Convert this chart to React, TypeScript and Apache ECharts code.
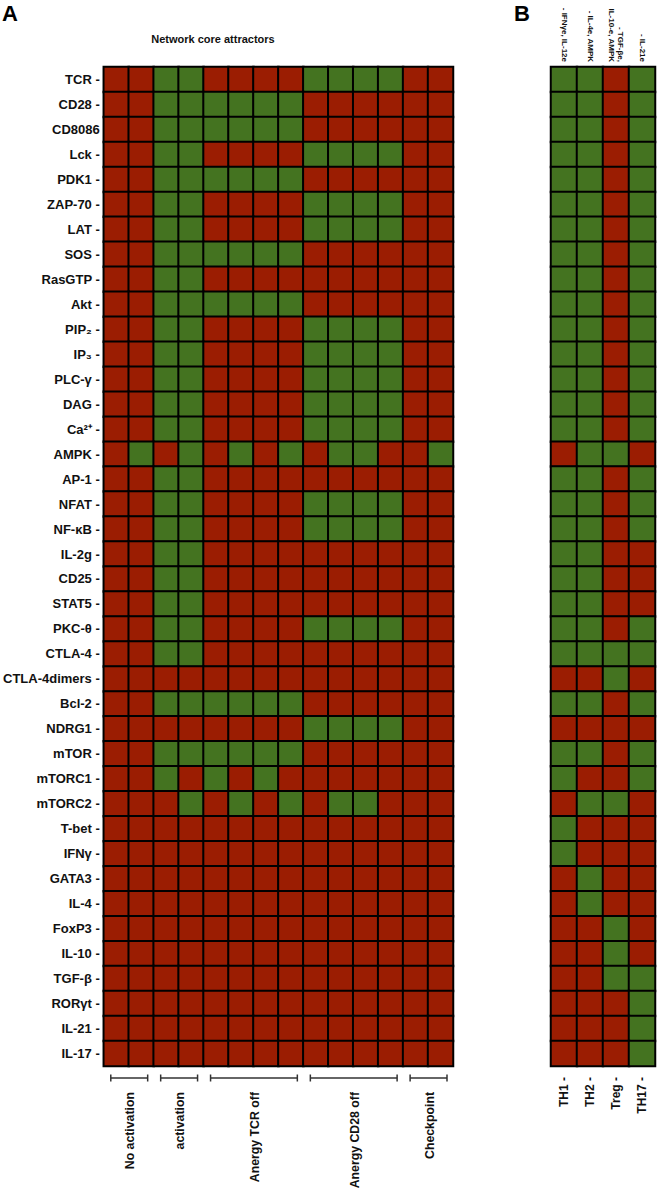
import React, { useEffect, useRef } from "react";
import * as echarts from "echarts";

const RED = "#9b1d02";
const GREEN = "#447320";
const FONT = "'Liberation Sans', Arial, Helvetica, sans-serif";

const genes = [
  "TCR -", "CD28 -", "CD8086", "Lck -", "PDK1 -", "ZAP-70 -", "LAT -", "SOS -", "RasGTP -", "Akt -",
  "PIP₂ -", "IP₃ -", "PLC-γ -", "DAG -", "Ca²⁺ -", "AMPK -", "AP-1 -", "NFAT -", "NF-κB -", "IL-2g -",
  "CD25 -", "STAT5 -", "PKC-θ -", "CTLA-4 -", "CTLA-4dimers -", "Bcl-2 -", "NDRG1 -", "mTOR -", "mTORC1 -", "mTORC2 -",
  "T-bet -", "IFNγ -", "GATA3 -", "IL-4 -", "FoxP3 -", "IL-10 -", "TGF-β -", "RORγt -", "IL-21 -", "IL-17 -",
];

const attractorColumns = [
  "NoAct-1", "NoAct-2", "Act-1", "Act-2",
  "TCRoff-1", "TCRoff-2", "TCRoff-3", "TCRoff-4",
  "CD28off-1", "CD28off-2", "CD28off-3", "CD28off-4",
  "Chk-1", "Chk-2",
];

const attractorGroups = [
  { label: "No activation", from: 0, to: 1 },
  { label: "activation", from: 2, to: 3 },
  { label: "Anergy TCR off", from: 4, to: 7 },
  { label: "Anergy CD28 off", from: 8, to: 11 },
  { label: "Checkpoint", from: 12, to: 13 },
];

// 1 = active (green), 0 = inactive (red); one string per gene, one char per attractor
const attractorStates = [
  "00110000111100", "00111111000000", "00111111000000", "00110000111100", "00111111000000",
  "00110000111100", "00110000111100", "00111111000000", "00110000000000", "00111111000000",
  "00110000111100", "00110000111100", "00110000111100", "00110000111100", "00110000111100",
  "01010101011001", "00110000000000", "00110000111100", "00110000111100", "00110000000000",
  "00110000000000", "00110000000000", "00110000111100", "00110000000000", "00000000000000",
  "00111111000000", "00000000111100", "00111111000000", "00101010000000", "00010101011000",
  "00000000000000", "00000000000000", "00000000000000", "00000000000000", "00000000000000",
  "00000000000000", "00000000000000", "00000000000000", "00000000000000", "00000000000000",
];

const subsets = ["TH1 -", "TH2 -", "Treg -", "TH17 -"];
const stimuli = ["- IFNγe, IL-12e", "- IL-4e, AMPK", "- TGF-βe,\nIL-10-e, AMPK", "- IL-21e"];

const subsetStates = [
  "1101", "1101", "1101", "1101", "1101", "1101", "1101", "1101", "1101", "1101",
  "1101", "1101", "1101", "1101", "1101", "0110", "1101", "1101", "1101", "1100",
  "1100", "1100", "1101", "1111", "0010", "1101", "0000", "1101", "1001", "0110",
  "1000", "1000", "0100", "0100", "0010", "0010", "0011", "0001", "0001", "0001",
];

function toCells(states: string[]) {
  const out: number[][] = [];
  states.forEach((row, y) => {
    row.split("").forEach((c, x) => out.push([x, y, Number(c)]));
  });
  return out;
}

export default function App() {
  const ref = useRef<HTMLDivElement>(null);
  useEffect(() => {
    if (!ref.current) return;
    const chart = echarts.init(ref.current, null, { renderer: "svg" });
    const hiddenAxis = {
      axisLabel: { show: false },
      axisTick: { show: false },
      axisLine: { show: false },
      splitLine: { show: false },
    };
    chart.setOption({
      animation: false,
      backgroundColor: "#ffffff",
      textStyle: { fontFamily: FONT },
      grid: [
        { left: 103, top: 67, width: 350, height: 999 },
        { left: 551, top: 67, width: 104, height: 999 },
      ],
      xAxis: [
        { gridIndex: 0, type: "category", data: attractorColumns, ...hiddenAxis },
        {
          gridIndex: 1, type: "category", data: subsets, position: "bottom",
          axisTick: { show: false }, axisLine: { show: false }, splitLine: { show: false },
          axisLabel: { rotate: 90, fontSize: 12, fontWeight: "bold", color: "#111", margin: 11, fontFamily: FONT },
        },
        {
          gridIndex: 1, type: "category", data: stimuli, position: "top",
          axisTick: { show: false }, axisLine: { show: false }, splitLine: { show: false },
          axisLabel: {
            rotate: 90, fontSize: 8, fontWeight: "bold", color: "#111", margin: 5, lineHeight: 9,
            padding: [0, 0, 10, 0], fontFamily: FONT,
          },
        },
      ],
      yAxis: [
        {
          gridIndex: 0, type: "category", data: genes, inverse: true,
          axisTick: { show: false }, splitLine: { show: false },
          axisLine: { show: true, lineStyle: { color: "#b5b5b5", width: 1 } },
          axisLabel: { fontSize: 13, fontWeight: "bold", color: "#111", margin: 4, fontFamily: FONT },
        },
        { gridIndex: 1, type: "category", data: genes, inverse: true, ...hiddenAxis },
      ],
      visualMap: {
        type: "piecewise", show: false, dimension: 2, seriesIndex: [0, 1],
        pieces: [{ value: 0, color: RED }, { value: 1, color: GREEN }],
      },
      series: [
        {
          type: "heatmap", xAxisIndex: 0, yAxisIndex: 0, data: toCells(attractorStates),
          itemStyle: { borderColor: "#000", borderWidth: 2 }, emphasis: { disabled: true },
        },
        {
          type: "heatmap", xAxisIndex: 1, yAxisIndex: 1, data: toCells(subsetStates),
          itemStyle: { borderColor: "#000", borderWidth: 2 }, emphasis: { disabled: true },
        },
      ],
    });

    // Group brackets and labels, positioned from the axis scale
    const c0 = chart.convertToPixel({ xAxisIndex: 0 }, attractorColumns[0]) as number;
    const c1 = chart.convertToPixel({ xAxisIndex: 0 }, attractorColumns[1]) as number;
    const colW = c1 - c0;
    const bottomY = chart.convertToPixel({ yAxisIndex: 0 }, genes[genes.length - 1]) as number;
    const rowH = Math.abs((chart.convertToPixel({ yAxisIndex: 0 }, genes[1]) as number) - (chart.convertToPixel({ yAxisIndex: 0 }, genes[0]) as number));
    const gridBottom = bottomY + rowH / 2;
    const bracketY = gridBottom + 12;
    const labelTop = gridBottom + 26;
    const elements: any[] = [];
    attractorGroups.forEach((g) => {
      const xs = (chart.convertToPixel({ xAxisIndex: 0 }, attractorColumns[g.from]) as number) - colW / 2 + 7;
      const xe = (chart.convertToPixel({ xAxisIndex: 0 }, attractorColumns[g.to]) as number) + colW / 2 - 6;
      const lineStyle = { stroke: "#333", lineWidth: 1.5 };
      elements.push({ type: "line", shape: { x1: xs, y1: bracketY, x2: xe, y2: bracketY }, style: lineStyle });
      elements.push({ type: "line", shape: { x1: xs, y1: bracketY - 3.5, x2: xs, y2: bracketY + 3.5 }, style: lineStyle });
      elements.push({ type: "line", shape: { x1: xe, y1: bracketY - 3.5, x2: xe, y2: bracketY + 3.5 }, style: lineStyle });
      elements.push({
        type: "text", x: (xs + xe) / 2 + 1, y: labelTop, rotation: Math.PI / 2,
        style: { text: g.label, fontSize: 12.3, fontWeight: "bold", fill: "#111", align: "right", verticalAlign: "middle", fontFamily: FONT },
      });
    });
    elements.push({
      type: "text", x: 213, y: 39,
      style: { text: "Network core attractors", fontSize: 11, fontWeight: "bold", fill: "#111", align: "center", verticalAlign: "middle", fontFamily: FONT },
    });
    elements.push({
      type: "text", x: 2, y: 13,
      style: { text: "A", fontSize: 22, fontWeight: "bold", fill: "#000", align: "left", verticalAlign: "middle", fontFamily: FONT },
    });
    elements.push({
      type: "text", x: 514, y: 13,
      style: { text: "B", fontSize: 22, fontWeight: "bold", fill: "#000", align: "left", verticalAlign: "middle", fontFamily: FONT },
    });
    chart.setOption({ graphic: { elements } });

    return () => chart.dispose();
  }, []);
  return <div ref={ref} style={{ position: "absolute", left: 0, top: 0, width: 661, height: 1192 }} />;
}
